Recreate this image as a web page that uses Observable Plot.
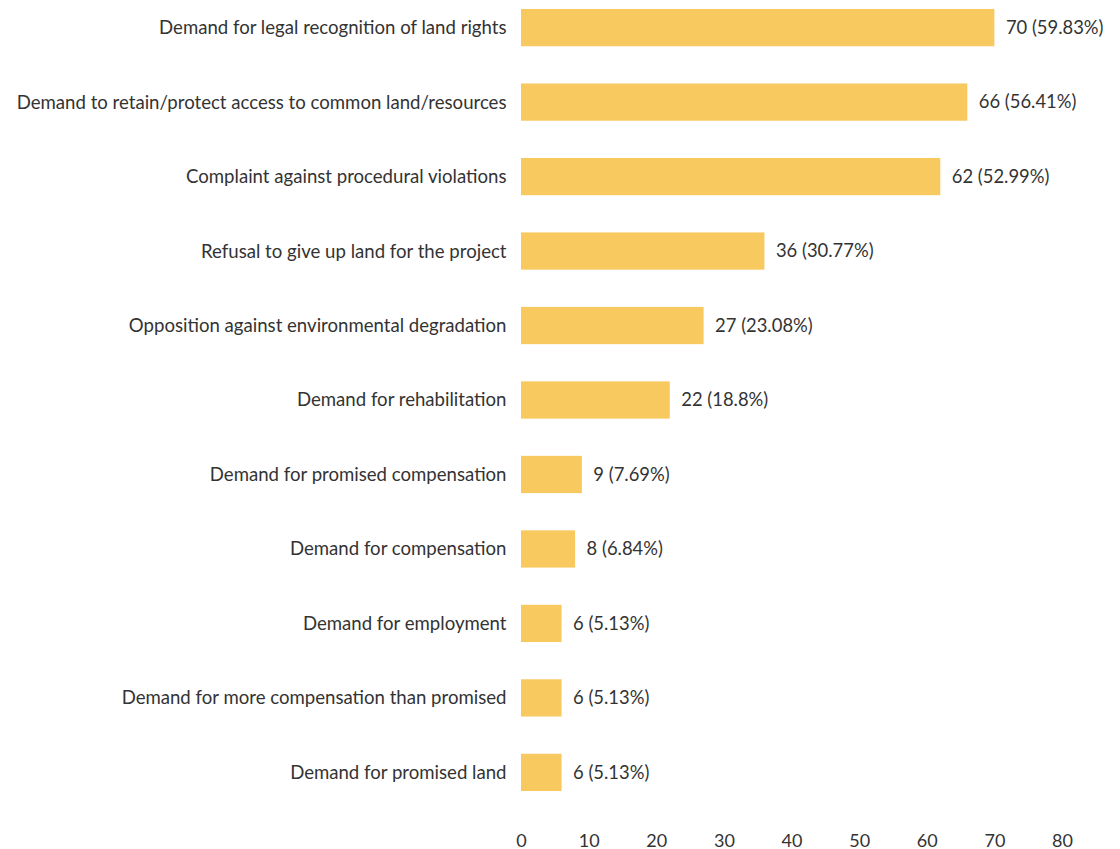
<!DOCTYPE html>
<html>
<head>
<meta charset="utf-8">
<script src="https://cdn.jsdelivr.net/npm/d3@7"></script>
<script src="https://cdn.jsdelivr.net/npm/@observablehq/plot@0.6"></script>
<style>
  html, body { margin: 0; padding: 0; background: #fff; }
  #chart svg { display: block; }
</style>
</head>
<body>
<div id="chart"></div>
<script>
const categories = [
  "Demand for legal recognition of land rights",
  "Demand to retain/protect access to common land/resources",
  "Complaint against procedural violations",
  "Refusal to give up land for the project",
  "Opposition against environmental degradation",
  "Demand for rehabilitation",
  "Demand for promised compensation",
  "Demand for compensation",
  "Demand for employment",
  "Demand for more compensation than promised",
  "Demand for promised land"
];
const counts = [70, 66, 62, 36, 27, 22, 9, 8, 6, 6, 6];
const percents = ["59.83", "56.41", "52.99", "30.77", "23.08", "18.8", "7.69", "6.84", "5.13", "5.13", "5.13"];
const xTicks = [0, 10, 20, 30, 40, 50, 60, 70, 80];

const data = categories.map((c, i) => ({category: c, value: counts[i], pct: percents[i]}));

const chart = Plot.plot({
  width: 1120,
  height: 849,
  marginLeft: 521,
  marginRight: 58,
  marginTop: 9,
  marginBottom: 58,
  style: {fontFamily: "Lato, sans-serif", fontSize: "18.6px", color: "#333", background: "#fff"},
  x: {domain: [0, 80]},
  y: {domain: categories, paddingInner: 0.5, paddingOuter: 0, round: false},
  marks: [
    Plot.barX(data, {x: "value", y: "category", fill: "#f8c95e"}),
    Plot.text(data, {
      x: "value", y: "category",
      text: d => `${d.value} (${d.pct}%)`,
      textAnchor: "start", dx: 11, fontSize: 18.4, fill: "#333"
    }),
    Plot.axisY({tickSize: 0, tickPadding: 15, label: null, fontSize: 18.6}),
    Plot.axisX({ticks: xTicks, tickSize: 0, tickPadding: 43, label: null, fontSize: 18, tickFormat: d => String(d)})
  ]
});
document.getElementById("chart").append(chart);
</script>
</body>
</html>
